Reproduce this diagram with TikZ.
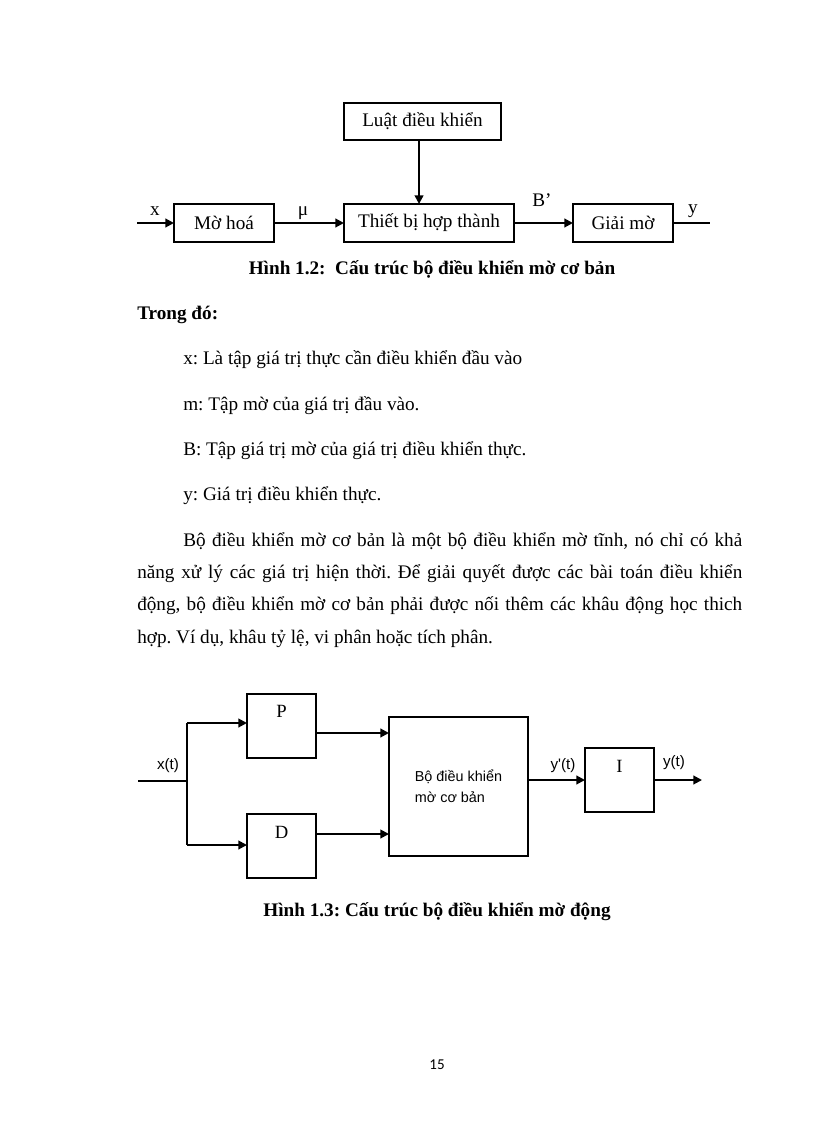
\documentclass[tikz,border=0pt]{standalone}
\usepackage{fontspec}
\setmainfont{Liberation Serif}
\newfontfamily\arialf{Liberation Sans}
\newfontfamily\calib{Carlito}
\usetikzlibrary{arrows.meta,calc}
\frenchspacing
\begin{document}
\begin{tikzpicture}[x=0.75pt,y=-0.75pt,
  blk/.style 2 args={draw, line width=1.2pt, inner sep=0pt, outer sep=0pt,
    minimum width=#1*0.75pt, minimum height=#2*0.75pt},
  dtext/.style={font=\fontsize{14.4}{17}\selectfont},
  conn/.style={line width=1.5pt, -{Triangle[length=6.5pt,width=6.5pt]}},
  plainline/.style={line width=1.5pt},
  lab/.style={font=\fontsize{14.4}{17}\selectfont, inner sep=0pt, anchor=base},
  alab/.style={font=\arialf\fontsize{11.4}{13}\selectfont, inner sep=0pt, anchor=center},
  bodytext/.style={font=\fontsize{14.4}{17}\selectfont, inner sep=0pt, anchor=base west},
  captext/.style={font=\bfseries\fontsize{14.4}{17}\selectfont, inner sep=0pt, anchor=base},
  letter/.style={font=\fontsize{14}{17}\selectfont}
]
\useasboundingbox (0,0) rectangle (816,1123);

% ---------- Figure 1.2 ----------
\node[blk={157}{37}, dtext] (luat) at (422.5,121.5) {Luật điều khiển};
\node[blk={100}{38}, dtext] (mohoa) at (224,223) {Mờ hoá};
\node[blk={170}{38}, dtext] (thiet) at (429,223) {Thiết bị hợp thành};
\node[blk={100}{38}, dtext] (giai) at (623,223) {Giải mờ};
\coordinate (xin) at (137,223);
\coordinate (yout) at (710,223);
\draw[conn] (xin) -- (mohoa);
\draw[conn] (mohoa) -- (thiet);
\draw[conn] (thiet) -- (giai);
\draw[plainline] (giai) -- (yout);
\draw[conn] ([xshift=-2.6pt]luat.south) -- ([xshift=-2.6pt]luat.south |- thiet.north);
\node[lab] (lx) at (155,215) {x};
\node[lab] (lmu) at (303,215) {μ};
\node[lab] (lb) at (542,207) {B’};
\node[lab] (ly) at (693,214) {y};

\node[captext] (cap1) at (432,274) {Hình 1.2:\ \ Cấu trúc bộ điều khiển mờ cơ bản};

% ---------- Text ----------
\node[bodytext] (t0) at (137,319) {\bfseries Trong đó:};
\node[bodytext] (t1) at (183,364) {x: Là tập giá trị thực cần điều khiển đầu vào};
\node[bodytext] (t2) at (183,410) {m: Tập mờ của giá trị đầu vào.};
\node[bodytext] (t3) at (183,455) {B: Tập giá trị mờ của giá trị điều khiển thực.};
\node[bodytext] (t4) at (183,500) {y: Giá trị điều khiển thực.};
\node[bodytext] (p1) at (183,546) {\hbox to 419.25pt{Bộ điều khiển mờ cơ bản là một bộ điều khiển mờ tĩnh, nó chỉ có khả}};
\node[bodytext] (p2) at (137,578) {\hbox to 453.75pt{năng xử lý các giá trị hiện thời. Để giải quyết được các bài toán điều khiển}};
\node[bodytext] (p3) at (137,610) {\hbox to 453.75pt{động, bộ điều khiển mờ cơ bản phải được nối thêm các khâu động học thich}};
\node[bodytext] (p4) at (137,643) {hợp. Ví dụ, khâu tỷ lệ, vi phân hoặc tích phân.};

% ---------- Figure 1.3 ----------
\node[blk={69}{64}, label={[letter, anchor=north, inner sep=0pt, yshift=-8pt]north:P}] (P) at (281.5,726) {};
\node[blk={69}{64}, label={[letter, anchor=north, inner sep=0pt, yshift=-9pt]north:D}] (D) at (281.5,846) {};
\node[blk={139}{139}, font=\arialf\fontsize{10.8}{15.75}\selectfont, align=left] (bo) at (458.5,786.5) {Bộ điều khiển\\mờ cơ bản};
\node[blk={69}{64}, label={[letter, anchor=north, inner sep=0pt, yshift=-9pt]north:I}] (I) at (619.5,780) {};
\coordinate (xin2) at (138,781);
\coordinate (jm) at (187,781);
\coordinate (jt) at (187,723);
\coordinate (jb) at (187,845);
\coordinate (yout2) at (702,780);
\draw[plainline, line width=1.2pt] (xin2) -- (jm);
\draw[plainline] (jt) -- (jb);
\draw[conn] (jt) -- (jt -| P.west);
\draw[conn] (jb) -- (jb -| D.west);
\draw[conn] ([yshift=-5.25pt]P.east) -- ([yshift=-5.25pt]P.east -| bo.west);
\draw[conn] ([yshift=9pt]D.east) -- ([yshift=9pt]D.east -| bo.west);
\draw[conn] (bo.east |- I.west) -- (I.west);
\draw[conn] (I.east) -- (yout2);
\node[alab] (lxt) at (168,766) {x(t)};
\node[alab] (lyp) at (563,766) {y'(t)};
\node[alab] (lyt) at (674,763) {y(t)};

\node[captext] (cap2) at (437,916) {Hình 1.3: Cấu trúc bộ điều khiển mờ động};

\node[font=\calib\fontsize{11.3}{13}\selectfont, inner sep=0pt] (pg) at (437,1065) {15};
\end{tikzpicture}
\end{document}
